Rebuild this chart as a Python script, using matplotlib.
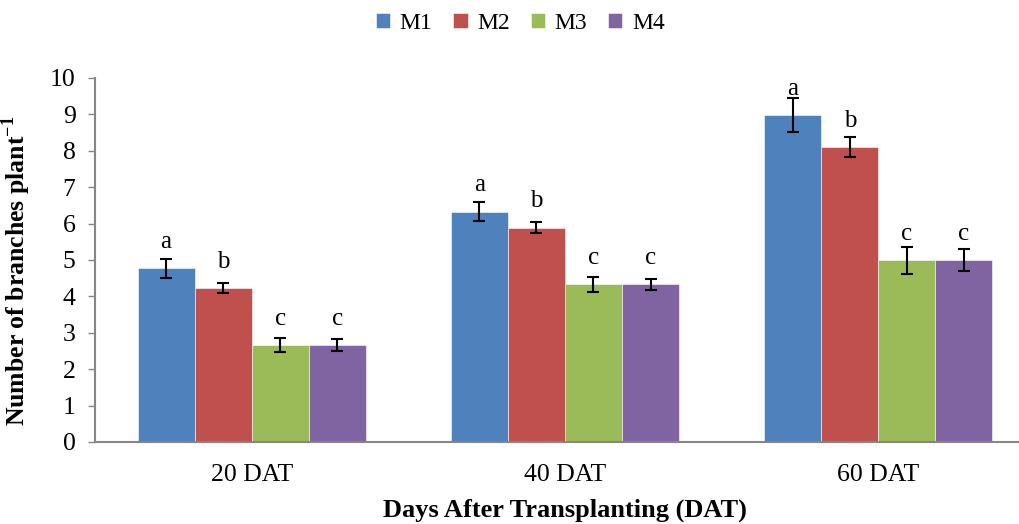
import matplotlib.pyplot as plt
import numpy as np

plt.rcParams['font.family'] = ['Liberation Serif', 'DejaVu Serif']
plt.rcParams['mathtext.fontset'] = 'custom'
plt.rcParams['mathtext.rm'] = 'Liberation Serif'
plt.rcParams['mathtext.bf'] = 'Liberation Serif:bold'

# data
categories = ['20 DAT', '40 DAT', '60 DAT']
series_names = ['M1', 'M2', 'M3', 'M4']
m1 = [4.77, 6.33, 8.99]
m2 = [4.22, 5.89, 8.11]
m3 = [2.66, 4.33, 4.99]
m4 = [2.66, 4.33, 5.00]
m1_err = [0.26, 0.25, 0.47]
m2_err = [0.14, 0.14, 0.27]
m3_err = [0.20, 0.20, 0.37]
m4_err = [0.16, 0.16, 0.31]
m1_letters = ['a', 'a', 'a']
m2_letters = ['b', 'b', 'b']
m3_letters = ['c', 'c', 'c']
m4_letters = ['c', 'c', 'c']

values = [m1, m2, m3, m4]
errors = [m1_err, m2_err, m3_err, m4_err]
letters = [m1_letters, m2_letters, m3_letters, m4_letters]
colors = ['#4F81BD', '#C0504D', '#9BBB59', '#8064A2']

fig = plt.figure(figsize=(10.2, 5.24), dpi=100)
ax = fig.add_axes([0.0931, 0.1565, 0.9216, 0.6947])

x = np.arange(len(categories))
w = 0.182
for i in range(4):
    pos = x + (i - 1.5) * w
    ax.bar(pos, values[i], w, color=colors[i], label=series_names[i],
           edgecolor='white', linewidth=0.4)
    ax.errorbar(pos, values[i], yerr=errors[i], fmt='none', ecolor='black',
                elinewidth=1.5, capsize=4.5, capthick=1.5)
    for p, v, t in zip(pos, values[i], letters[i]):
        ax.annotate(t, (p, v), xytext=(0, 14.5), textcoords='offset points',
                    ha='center', va='baseline', fontsize=18)

ax.set_xlim(-0.5, 2.5)
ax.set_ylim(0, 10)
ax.set_yticks(range(0, 11))
ax.set_xticks(x)
ax.set_xticklabels(categories)
ax.tick_params(axis='y', labelsize=18.5, color='#868686', length=5, width=1, pad=9)
ax.tick_params(axis='x', labelsize=18.5, length=0, pad=16)
for s in ['top', 'right']:
    ax.spines[s].set_visible(False)
for s in ['left', 'bottom']:
    ax.spines[s].set_color('#868686')
    ax.spines[s].set_linewidth(1.5)

ax.set_ylabel(r'Number of branches plant$^{\mathbf{-1}}$', fontsize=18.5,
              fontweight='bold')
ax.yaxis.set_label_coords(-0.066, 0.47)
ax.set_xlabel('Days After Transplanting (DAT)', fontsize=19,
              fontweight='bold', labelpad=9)

handles, _ = ax.get_legend_handles_labels()
fig.legend(handles, series_names, loc='center', bbox_to_anchor=(0.51, 0.955),
           ncol=4, frameon=False, fontsize=17, handlelength=0.6,
           handleheight=0.6, handletextpad=0.4, columnspacing=0.9)

fig.savefig('out.png', dpi=100)
